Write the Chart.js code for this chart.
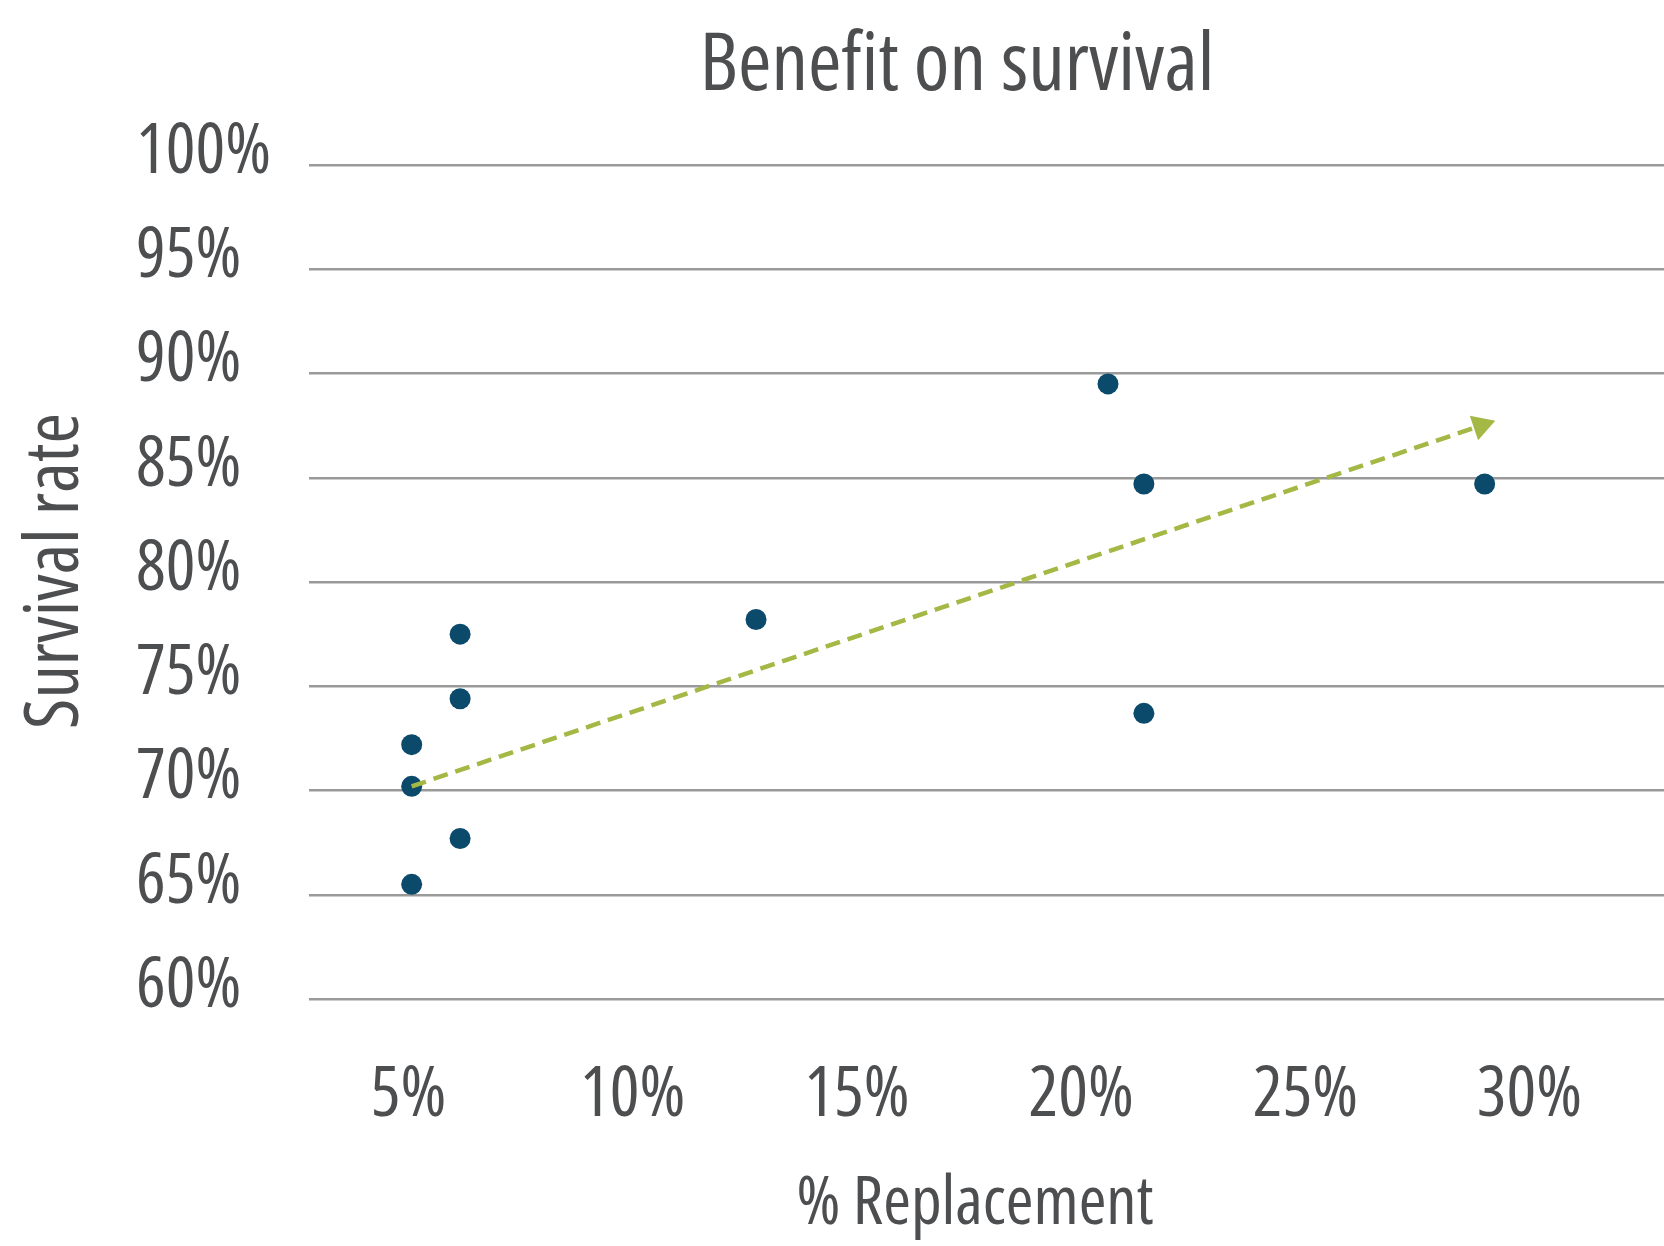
<!DOCTYPE html>
<html lang="en">
<head>
    <meta charset="UTF-8"/>
    <title>Benefit on survival</title>
    <style>
        html, body {
            margin: 0;
            padding: 0;
            background: #fff;
            overflow: hidden;
        }

        #wrap {
            width: 1664px;
            height: 1246px;
            position: relative;
        }
    </style>
    <script src="https://cdn.jsdelivr.net/npm/chart.js@4/dist/chart.umd.min.js"></script>
</head>
<body>
<div id="wrap"><canvas id="chart"></canvas></div>

<script>
    // Data
    const TITLE = 'Benefit on survival';
    const X_TITLE = '% Replacement';
    const Y_TITLE = 'Survival rate';

    const replacement = [5.07, 5.07, 5.07, 6.15, 6.15, 6.15, 12.75, 20.6, 21.4, 21.4, 29.0];
    const survival = [72.2, 70.2, 65.5, 77.5, 74.4, 67.7, 78.2, 89.5, 84.7, 73.7, 84.7];

    // trend arrow, start and end
    const trendX = [5.07, 28.92];
    const trendY = [70.2, 87.5];

    const xTicks = [5, 10, 15, 20, 25, 30];
    const yTicks = [60, 65, 70, 75, 80, 85, 90, 95, 100];

    // Style
    const FONT = "'Open Sans', 'DejaVu Sans Condensed', sans-serif";
    const STRETCH = 'condensed';   // goes into the canvas font shorthand
    const TEXT = '#4d4e50';
    const DOT = '#0b4a6b';
    const GREEN = '#a4b845';

    Chart.defaults.font.family = FONT;
    Chart.defaults.font.weight = STRETCH;
    Chart.defaults.color = TEXT;

    const pts = replacement.map((x, i) => ({x, y: survival[i]}));
    const trend = trendX.map((x, i) => ({x, y: trendY[i]}));

    // titles at fixed spots, like the original layout (not centred on the plot)
    const titles = {
        id: 'titles',
        afterDraw(chart) {
            const c = chart.ctx;
            c.save();
            c.fillStyle = TEXT;
            c.textAlign = 'center';
            c.textBaseline = 'middle';
            c.font = `${STRETCH} 81px ${FONT}`;
            c.fillText(TITLE, 957, 67);
            c.font = `${STRETCH} 67px ${FONT}`;
            c.fillText(X_TITLE, 975, 1205);
            c.translate(57, 571);
            c.rotate(-Math.PI / 2);
            c.font = `${STRETCH} 74px ${FONT}`;
            c.fillText(Y_TITLE, 0, 0);
            c.restore();
        }
    };

    function arrowRotation(ctx) {
        const {x, y} = ctx.chart.scales;
        const a = trend[0], b = trend[trend.length - 1];
        const dx = x.getPixelForValue(b.x) - x.getPixelForValue(a.x);
        const dy = y.getPixelForValue(b.y) - y.getPixelForValue(a.y);
        return Math.atan2(dx, -dy) * 180 / Math.PI;
    }

    new Chart(document.getElementById('chart'), {
        type: 'scatter',
        data: {
            datasets: [{
                data: trend,
                order: 0,
                showLine: true,
                borderColor: GREEN,
                backgroundColor: GREEN,
                borderWidth: 4.5,
                borderDash: [15, 8],
                pointStyle: 'triangle',
                pointRadius: ctx => ctx.dataIndex === trend.length - 1 ? 15 : 0,
                pointBorderWidth: 0,
                rotation: arrowRotation
            }, {
                data: pts,
                order: 1,
                backgroundColor: DOT,
                borderColor: DOT,
                pointRadius: 10.5,
                pointBorderWidth: 0
            }]
        },
        options: {
            animation: false,
            responsive: true,
            maintainAspectRatio: false,
            layout: {
                autoPadding: false,
                padding: {left: 136, top: 165, right: 0, bottom: 0}
            },
            plugins: {
                legend: {display: false},
                tooltip: {enabled: false}
            },
            scales: {
                x: {
                    type: 'linear',
                    min: 2.78,
                    max: 33,
                    afterBuildTicks: s => { s.ticks = xTicks.map(v => ({value: v})); },
                    afterFit: s => {
                        s.height = 247;
                        s.paddingLeft = 0;
                        s.paddingRight = 0;
                    },
                    grid: {display: false},
                    border: {display: false},
                    ticks: {
                        font: {size: 70},
                        padding: 47,
                        callback: v => v + '%'
                    }
                },
                y: {
                    min: 60,
                    max: 100,
                    afterBuildTicks: s => { s.ticks = yTicks.map(v => ({value: v})); },
                    afterFit: s => { s.width = 173; },
                    grid: {color: '#9a9a9a', lineWidth: 2.5, drawTicks: false},
                    border: {display: false},
                    ticks: {
                        font: {size: 70},
                        crossAlign: 'far',
                        labelOffset: -12,
                        callback: v => v + '%'
                    }
                }
            }
        },
        plugins: [titles]
    });
</script>
</body>
</html>
